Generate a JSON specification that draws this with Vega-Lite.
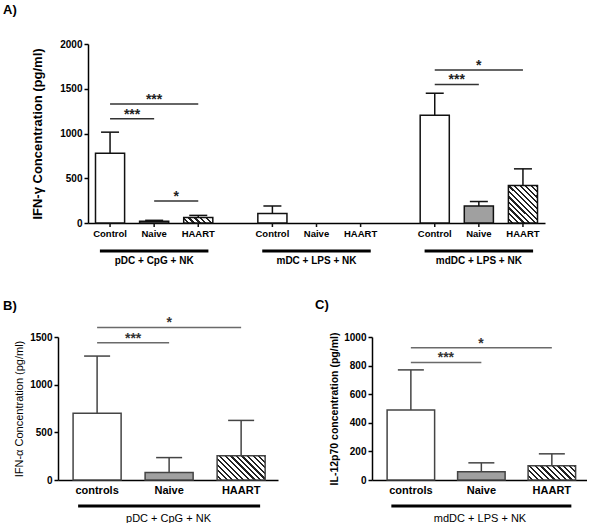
{
  "$schema": "https://vega.github.io/schema/vega-lite/v6.json",
  "padding": {"left": 3, "top": 4, "right": 0, "bottom": 0},
  "background": "white",
  "config": {
    "font": "Liberation Sans",
    "view": {"stroke": null},
    "tick": {"opacity": 1},
    "axis": {"domainColor": "#000", "domainWidth": 1.5, "tickColor": "#000", "tickWidth": 1.5, "tickSize": 4, "labelColor": "#000", "titleColor": "#000", "labelFontWeight": "bold", "grid": false},
    "title": {"color": "#000"}
  },
  "datasets": {
    "bars": [
      {"panel": "A", "group": "pDC + CpG + NK", "cond": "Control", "mean": 780, "upper": 1015},
      {"panel": "A", "group": "pDC + CpG + NK", "cond": "Naive", "mean": 20, "upper": 30},
      {"panel": "A", "group": "pDC + CpG + NK", "cond": "HAART", "mean": 62, "upper": 85},
      {"panel": "A", "group": "mDC + LPS + NK", "cond": "Control", "mean": 105, "upper": 190},
      {"panel": "A", "group": "mDC + LPS + NK", "cond": "Naive", "mean": 0, "upper": 0},
      {"panel": "A", "group": "mDC + LPS + NK", "cond": "HAART", "mean": 0, "upper": 0},
      {"panel": "A", "group": "mdDC + LPS + NK", "cond": "Control", "mean": 1205, "upper": 1450},
      {"panel": "A", "group": "mdDC + LPS + NK", "cond": "Naive", "mean": 190, "upper": 240},
      {"panel": "A", "group": "mdDC + LPS + NK", "cond": "HAART", "mean": 420, "upper": 605},
      {"panel": "B", "group": "pDC + CpG + NK", "cond": "controls", "mean": 700, "upper": 1300},
      {"panel": "B", "group": "pDC + CpG + NK", "cond": "Naive", "mean": 78, "upper": 235},
      {"panel": "B", "group": "pDC + CpG + NK", "cond": "HAART", "mean": 255, "upper": 625},
      {"panel": "C", "group": "mdDC + LPS + NK", "cond": "controls", "mean": 490, "upper": 770},
      {"panel": "C", "group": "mdDC + LPS + NK", "cond": "Naive", "mean": 58, "upper": 120},
      {"panel": "C", "group": "mdDC + LPS + NK", "cond": "HAART", "mean": 100, "upper": 183}
    ],
    "sig": [
      {"panel": "A", "group": "pDC + CpG + NK", "from": "Control", "to": "Naive", "y": 1165, "label": "***"},
      {"panel": "A", "group": "pDC + CpG + NK", "from": "Control", "to": "HAART", "y": 1330, "label": "***"},
      {"panel": "A", "group": "pDC + CpG + NK", "from": "Naive", "to": "HAART", "y": 245, "label": "*"},
      {"panel": "A", "group": "mdDC + LPS + NK", "from": "Control", "to": "Naive", "y": 1548, "label": "***"},
      {"panel": "A", "group": "mdDC + LPS + NK", "from": "Control", "to": "HAART", "y": 1710, "label": "*"},
      {"panel": "B", "group": "pDC + CpG + NK", "from": "controls", "to": "Naive", "y": 1440, "label": "***"},
      {"panel": "B", "group": "pDC + CpG + NK", "from": "controls", "to": "HAART", "y": 1600, "label": "*"},
      {"panel": "C", "group": "mdDC + LPS + NK", "from": "controls", "to": "Naive", "y": 822, "label": "***"},
      {"panel": "C", "group": "mdDC + LPS + NK", "from": "controls", "to": "HAART", "y": 925, "label": "*"}
    ]
  },
  "spacing": 34,
  "vconcat": [
    {
      "width": 487,
      "height": 179,
      "title": {"text": "A)", "anchor": "start", "frame": "group", "dx": -55, "offset": 22, "fontSize": 13, "fontWeight": "bold"},
      "layer": [
        {
          "data": {"name": "bars"},
          "transform": [{"filter": "datum.panel === 'A' && datum.cond !== 'HAART' && datum.mean > 0"}],
          "mark": {"type": "bar", "stroke": "#111", "strokeWidth": 1.5},
          "encoding": {
            "x": {"field": "group", "type": "nominal", "scale": {"domain": ["pDC + CpG + NK", "mDC + LPS + NK", "mdDC + LPS + NK"], "range": [30, 487], "paddingInner": 0.185, "paddingOuter": 0}, "axis": {"title": null, "ticks": false, "labelPadding": 32, "labelFontSize": 10, "labelAngle": 0}},
            "xOffset": {"field": "cond", "type": "nominal", "scale": {"domain": ["Control", "Naive", "HAART"], "paddingInner": 0.34, "paddingOuter": 0.17}},
            "y": {"field": "mean", "type": "quantitative", "scale": {"domain": [0, 2000], "nice": false}, "axis": {"values": [0, 500, 1000, 1500, 2000], "tickCount": 5, "format": "d", "labelOverlap": false, "offset": -30, "title": "IFN-γ Concentration (pg/ml)", "titleFontSize": 13, "titleFontWeight": "bold", "titlePadding": 15, "labelFontSize": 10, "labelPadding": 2}},
            "fill": {"field": "cond", "type": "nominal", "scale": {"domain": ["Control", "Naive"], "range": ["#ffffff", "#a0a0a0"]}, "legend": null}
          }
        },
        {
          "data": {"name": "bars"},
          "transform": [{"filter": "datum.panel === 'A' && datum.cond === 'HAART' && datum.group === 'pDC + CpG + NK'"}],
          "mark": {"type": "bar", "stroke": "#111", "strokeWidth": 1.5, "fill": {"gradient": "linear", "x1": 0, "y1": 1, "x2": 1.1485, "y2": 0.7818, "stops": [
            {"offset": 0, "color": "#fff"}, {"offset": 0.1, "color": "#fff"}, {"offset": 0.1, "color": "#222"}, {"offset": 0.16667, "color": "#222"},
            {"offset": 0.16667, "color": "#fff"}, {"offset": 0.26667, "color": "#fff"}, {"offset": 0.26667, "color": "#222"}, {"offset": 0.33333, "color": "#222"},
            {"offset": 0.33333, "color": "#fff"}, {"offset": 0.43333, "color": "#fff"}, {"offset": 0.43333, "color": "#222"}, {"offset": 0.5, "color": "#222"},
            {"offset": 0.5, "color": "#fff"}, {"offset": 0.6, "color": "#fff"}, {"offset": 0.6, "color": "#222"}, {"offset": 0.66667, "color": "#222"},
            {"offset": 0.66667, "color": "#fff"}, {"offset": 0.76667, "color": "#fff"}, {"offset": 0.76667, "color": "#222"}, {"offset": 0.83333, "color": "#222"},
            {"offset": 0.83333, "color": "#fff"}, {"offset": 0.93333, "color": "#fff"}, {"offset": 0.93333, "color": "#222"}, {"offset": 1, "color": "#222"}
          ]}},
          "encoding": {
            "x": {"field": "group", "type": "nominal"},
            "xOffset": {"field": "cond", "type": "nominal"},
            "y": {"field": "mean", "type": "quantitative"}
          }
        },
        {
          "data": {"name": "bars"},
          "transform": [{"filter": "datum.panel === 'A' && datum.cond === 'HAART' && datum.group === 'mdDC + LPS + NK'"}],
          "mark": {"type": "bar", "stroke": "#111", "strokeWidth": 1.5, "fill": {"gradient": "linear", "x1": 0, "y1": 1, "x2": 0.855, "y2": -0.1115, "stops": [
            {"offset": 0, "color": "#fff"}, {"offset": 0.05, "color": "#fff"}, {"offset": 0.05, "color": "#222"}, {"offset": 0.08333, "color": "#222"},
            {"offset": 0.08333, "color": "#fff"}, {"offset": 0.13333, "color": "#fff"}, {"offset": 0.13333, "color": "#222"}, {"offset": 0.16667, "color": "#222"},
            {"offset": 0.16667, "color": "#fff"}, {"offset": 0.21667, "color": "#fff"}, {"offset": 0.21667, "color": "#222"}, {"offset": 0.25, "color": "#222"},
            {"offset": 0.25, "color": "#fff"}, {"offset": 0.3, "color": "#fff"}, {"offset": 0.3, "color": "#222"}, {"offset": 0.33333, "color": "#222"},
            {"offset": 0.33333, "color": "#fff"}, {"offset": 0.38333, "color": "#fff"}, {"offset": 0.38333, "color": "#222"}, {"offset": 0.41667, "color": "#222"},
            {"offset": 0.41667, "color": "#fff"}, {"offset": 0.46667, "color": "#fff"}, {"offset": 0.46667, "color": "#222"}, {"offset": 0.5, "color": "#222"},
            {"offset": 0.5, "color": "#fff"}, {"offset": 0.55, "color": "#fff"}, {"offset": 0.55, "color": "#222"}, {"offset": 0.58333, "color": "#222"},
            {"offset": 0.58333, "color": "#fff"}, {"offset": 0.63333, "color": "#fff"}, {"offset": 0.63333, "color": "#222"}, {"offset": 0.66667, "color": "#222"},
            {"offset": 0.66667, "color": "#fff"}, {"offset": 0.71667, "color": "#fff"}, {"offset": 0.71667, "color": "#222"}, {"offset": 0.75, "color": "#222"},
            {"offset": 0.75, "color": "#fff"}, {"offset": 0.8, "color": "#fff"}, {"offset": 0.8, "color": "#222"}, {"offset": 0.83333, "color": "#222"},
            {"offset": 0.83333, "color": "#fff"}, {"offset": 0.88333, "color": "#fff"}, {"offset": 0.88333, "color": "#222"}, {"offset": 0.91667, "color": "#222"},
            {"offset": 0.91667, "color": "#fff"}, {"offset": 0.96667, "color": "#fff"}, {"offset": 0.96667, "color": "#222"}, {"offset": 1, "color": "#222"}
          ]}},
          "encoding": {
            "x": {"field": "group", "type": "nominal"},
            "xOffset": {"field": "cond", "type": "nominal"},
            "y": {"field": "mean", "type": "quantitative"}
          }
        },
        {
          "data": {"name": "bars"},
          "transform": [{"filter": "datum.panel === 'A' && datum.mean > 0"}],
          "mark": {"type": "rule", "color": "#111", "strokeWidth": 1.5},
          "encoding": {
            "x": {"field": "group", "type": "nominal"},
            "xOffset": {"field": "cond", "type": "nominal"},
            "y": {"field": "mean", "type": "quantitative"},
            "y2": {"field": "upper"}
          }
        },
        {
          "data": {"name": "bars"},
          "transform": [{"filter": "datum.panel === 'A' && datum.mean > 0"}],
          "mark": {"type": "tick", "color": "#111", "opacity": 1, "thickness": 1.5, "size": 18, "orient": "horizontal"},
          "encoding": {
            "x": {"field": "group", "type": "nominal"},
            "xOffset": {"field": "cond", "type": "nominal"},
            "y": {"field": "upper", "type": "quantitative"}
          }
        },
        {
          "data": {"name": "bars"},
          "transform": [{"filter": "datum.panel === 'A'"}],
          "mark": {"type": "rule", "color": "#111", "strokeWidth": 1.5},
          "encoding": {
            "x": {"field": "group", "type": "nominal"},
            "xOffset": {"field": "cond", "type": "nominal"},
            "y": {"datum": 0},
            "y2": {"datum": -45}
          }
        },
        {
          "data": {"name": "bars"},
          "transform": [{"filter": "datum.panel === 'A'"}],
          "mark": {"type": "text", "baseline": "top", "fontSize": 9.5, "fontWeight": "bold", "color": "#000"},
          "encoding": {
            "x": {"field": "group", "type": "nominal"},
            "xOffset": {"field": "cond", "type": "nominal"},
            "y": {"datum": -65},
            "text": {"field": "cond"}
          }
        },
        {
          "data": {"name": "bars"},
          "transform": [{"filter": "datum.panel === 'A' && datum.cond === 'Control'"}],
          "mark": {"type": "bar", "color": "#000", "width": {"band": 0.82}},
          "encoding": {
            "x": {"field": "group", "type": "nominal"},
            "y": {"datum": -296},
            "y2": {"datum": -330}
          }
        },
        {
          "data": {"name": "sig"},
          "transform": [{"filter": "datum.panel === 'A'"}, {"fold": ["from", "to"], "as": ["end", "cond"]}],
          "mark": {"type": "line", "color": "#333", "strokeWidth": 1.5},
          "encoding": {
            "x": {"field": "group", "type": "nominal"},
            "xOffset": {"field": "cond", "type": "nominal"},
            "y": {"field": "y", "type": "quantitative"},
            "detail": [{"field": "group"}, {"field": "from"}, {"field": "to"}]
          }
        },
        {
          "data": {"name": "sig"},
          "transform": [{"filter": "datum.panel === 'A' && !(datum.from === 'Control' && datum.to === 'HAART')"}],
          "mark": {"type": "text", "fontSize": 14, "fontWeight": "bold", "color": "#222", "dx": 22, "dy": 0, "baseline": "alphabetic"},
          "encoding": {
            "x": {"field": "group", "type": "nominal"},
            "xOffset": {"field": "from", "type": "nominal"},
            "y": {"field": "y", "type": "quantitative"},
            "text": {"field": "label"}
          }
        },
        {
          "data": {"name": "sig"},
          "transform": [{"filter": "datum.panel === 'A' && datum.from === 'Control' && datum.to === 'HAART'"}],
          "mark": {"type": "text", "fontSize": 14, "fontWeight": "bold", "color": "#222", "dx": 44, "dy": 0, "baseline": "alphabetic"},
          "encoding": {
            "x": {"field": "group", "type": "nominal"},
            "xOffset": {"field": "from", "type": "nominal"},
            "y": {"field": "y", "type": "quantitative"},
            "text": {"field": "label"}
          }
        }
      ]
    },
    {
      "spacing": 37,
      "hconcat": [
        {
          "width": 220,
          "height": 143,
          "title": {"text": "B)", "anchor": "start", "frame": "group", "dx": -55, "offset": 3, "fontSize": 13, "fontWeight": "bold"},
          "layer": [
            {
              "data": {"name": "bars"},
              "transform": [{"filter": "datum.panel === 'B' && datum.cond !== 'HAART'"}],
              "mark": {"type": "bar", "stroke": "#444", "strokeWidth": 1.5},
              "encoding": {
                "x": {"field": "cond", "type": "nominal", "scale": {"domain": ["controls", "Naive", "HAART"], "paddingInner": 0.333, "paddingOuter": 0.194, "align": 0.54}, "axis": {"ticks": false, "labelPadding": 4, "labelFontSize": 11, "labelAngle": 0, "title": "pDC + CpG + NK", "titleFontSize": 11, "titleFontWeight": "normal", "titlePadding": 17}},
                "y": {"field": "mean", "type": "quantitative", "scale": {"domain": [0, 1500], "nice": false}, "axis": {"values": [0, 500, 1000, 1500], "tickCount": 4, "format": "d", "labelOverlap": false, "title": "IFN-α Concentration (pg/ml)", "titleFontSize": 11, "titleFontWeight": "normal", "titlePadding": 5, "labelFontSize": 10, "labelPadding": 2}},
                "fill": {"field": "cond", "type": "nominal", "scale": {"domain": ["controls", "Naive"], "range": ["#ffffff", "#888888"]}, "legend": null}
              }
            },
            {
              "data": {"name": "bars"},
              "transform": [{"filter": "datum.panel === 'B' && datum.cond === 'HAART'"}],
              "mark": {"type": "bar", "stroke": "#444", "strokeWidth": 1.5, "fill": {"gradient": "linear", "x1": 0, "y1": 1, "x2": 1.199, "y2": 0.393, "stops": [
                {"offset": 0, "color": "#fff"}, {"offset": 0.04615, "color": "#fff"}, {"offset": 0.04615, "color": "#222"}, {"offset": 0.07692, "color": "#222"},
                {"offset": 0.07692, "color": "#fff"}, {"offset": 0.12308, "color": "#fff"}, {"offset": 0.12308, "color": "#222"}, {"offset": 0.15385, "color": "#222"},
                {"offset": 0.15385, "color": "#fff"}, {"offset": 0.2, "color": "#fff"}, {"offset": 0.2, "color": "#222"}, {"offset": 0.23077, "color": "#222"},
                {"offset": 0.23077, "color": "#fff"}, {"offset": 0.27692, "color": "#fff"}, {"offset": 0.27692, "color": "#222"}, {"offset": 0.30769, "color": "#222"},
                {"offset": 0.30769, "color": "#fff"}, {"offset": 0.35385, "color": "#fff"}, {"offset": 0.35385, "color": "#222"}, {"offset": 0.38462, "color": "#222"},
                {"offset": 0.38462, "color": "#fff"}, {"offset": 0.43077, "color": "#fff"}, {"offset": 0.43077, "color": "#222"}, {"offset": 0.46154, "color": "#222"},
                {"offset": 0.46154, "color": "#fff"}, {"offset": 0.50769, "color": "#fff"}, {"offset": 0.50769, "color": "#222"}, {"offset": 0.53846, "color": "#222"},
                {"offset": 0.53846, "color": "#fff"}, {"offset": 0.58462, "color": "#fff"}, {"offset": 0.58462, "color": "#222"}, {"offset": 0.61538, "color": "#222"},
                {"offset": 0.61538, "color": "#fff"}, {"offset": 0.66154, "color": "#fff"}, {"offset": 0.66154, "color": "#222"}, {"offset": 0.69231, "color": "#222"},
                {"offset": 0.69231, "color": "#fff"}, {"offset": 0.73846, "color": "#fff"}, {"offset": 0.73846, "color": "#222"}, {"offset": 0.76923, "color": "#222"},
                {"offset": 0.76923, "color": "#fff"}, {"offset": 0.81538, "color": "#fff"}, {"offset": 0.81538, "color": "#222"}, {"offset": 0.84615, "color": "#222"},
                {"offset": 0.84615, "color": "#fff"}, {"offset": 0.89231, "color": "#fff"}, {"offset": 0.89231, "color": "#222"}, {"offset": 0.92308, "color": "#222"},
                {"offset": 0.92308, "color": "#fff"}, {"offset": 0.96923, "color": "#fff"}, {"offset": 0.96923, "color": "#222"}, {"offset": 1, "color": "#222"}
              ]}},
              "encoding": {
                "x": {"field": "cond", "type": "nominal"},
                "y": {"field": "mean", "type": "quantitative"}
              }
            },
            {
              "data": {"name": "bars"},
              "transform": [{"filter": "datum.panel === 'B'"}],
              "mark": {"type": "rule", "color": "#444", "strokeWidth": 1.5},
              "encoding": {
                "x": {"field": "cond", "type": "nominal"},
                "y": {"field": "mean", "type": "quantitative"},
                "y2": {"field": "upper"}
              }
            },
            {
              "data": {"name": "bars"},
              "transform": [{"filter": "datum.panel === 'B'"}],
              "mark": {"type": "tick", "color": "#444", "opacity": 1, "thickness": 1.5, "size": 26, "orient": "horizontal"},
              "encoding": {
                "x": {"field": "cond", "type": "nominal"},
                "y": {"field": "upper", "type": "quantitative"}
              }
            },
            {
              "data": {"name": "sig"},
              "transform": [{"filter": "datum.panel === 'B'"}],
              "mark": {"type": "rule", "color": "#6a6a6a", "strokeWidth": 1.5},
              "encoding": {
                "x": {"field": "from", "type": "nominal"},
                "x2": {"field": "to"},
                "y": {"field": "y", "type": "quantitative"}
              }
            },
            {
              "data": {"name": "sig"},
              "transform": [{"filter": "datum.panel === 'B' && datum.to === 'Naive'"}],
              "mark": {"type": "text", "fontSize": 14, "fontWeight": "bold", "color": "#333", "dx": 36, "dy": 0, "baseline": "alphabetic"},
              "encoding": {
                "x": {"field": "from", "type": "nominal"},
                "y": {"field": "y", "type": "quantitative"},
                "text": {"field": "label"}
              }
            },
            {
              "data": {"name": "sig"},
              "transform": [{"filter": "datum.panel === 'B' && datum.to === 'HAART'"}],
              "mark": {"type": "text", "fontSize": 14, "fontWeight": "bold", "color": "#333", "dx": 72, "dy": 0, "baseline": "alphabetic"},
              "encoding": {
                "x": {"field": "from", "type": "nominal"},
                "y": {"field": "y", "type": "quantitative"},
                "text": {"field": "label"}
              }
            },
            {
              "data": {"name": "bars"},
              "transform": [{"filter": "datum.panel === 'B' && datum.cond === 'Naive'"}],
              "mark": {"type": "tick", "color": "#000", "opacity": 1, "thickness": 3, "size": 182, "orient": "horizontal"},
              "encoding": {
                "x": {"field": "cond", "type": "nominal"},
                "y": {"datum": -273}
              }
            }
          ]
        },
        {
          "width": 215,
          "height": 143,
          "title": {"text": "C)", "anchor": "start", "frame": "group", "dx": -57, "offset": 20, "fontSize": 13, "fontWeight": "bold"},
          "layer": [
            {
              "data": {"name": "bars"},
              "transform": [{"filter": "datum.panel === 'C' && datum.cond !== 'HAART'"}],
              "mark": {"type": "bar", "stroke": "#444", "strokeWidth": 1.5},
              "encoding": {
                "x": {"field": "cond", "type": "nominal", "scale": {"domain": ["controls", "Naive", "HAART"], "paddingInner": 0.326, "paddingOuter": 0.188, "align": 0.57}, "axis": {"ticks": false, "labelPadding": 4, "labelFontSize": 11, "labelAngle": 0, "title": "mdDC + LPS + NK", "titleFontSize": 11, "titleFontWeight": "normal", "titlePadding": 17}},
                "y": {"field": "mean", "type": "quantitative", "scale": {"domain": [0, 1000], "nice": false}, "axis": {"values": [0, 200, 400, 600, 800, 1000], "tickCount": 6, "format": "d", "labelOverlap": false, "title": "IL-12p70 concentration (pg/ml)", "titleFontSize": 10.5, "titleFontWeight": "bold", "titlePadding": 4, "labelFontSize": 10, "labelPadding": 2}},
                "fill": {"field": "cond", "type": "nominal", "scale": {"domain": ["controls", "Naive"], "range": ["#ffffff", "#888888"]}, "legend": null}
              }
            },
            {
              "data": {"name": "bars"},
              "transform": [{"filter": "datum.panel === 'C' && datum.cond === 'HAART'"}],
              "mark": {"type": "bar", "stroke": "#444", "strokeWidth": 1.5, "fill": {"gradient": "linear", "x1": 0, "y1": 1, "x2": 1.1927, "y2": 0.6422, "stops": [
                {"offset": 0, "color": "#fff"}, {"offset": 0.05455, "color": "#fff"}, {"offset": 0.05455, "color": "#222"}, {"offset": 0.09091, "color": "#222"},
                {"offset": 0.09091, "color": "#fff"}, {"offset": 0.14545, "color": "#fff"}, {"offset": 0.14545, "color": "#222"}, {"offset": 0.18182, "color": "#222"},
                {"offset": 0.18182, "color": "#fff"}, {"offset": 0.23636, "color": "#fff"}, {"offset": 0.23636, "color": "#222"}, {"offset": 0.27273, "color": "#222"},
                {"offset": 0.27273, "color": "#fff"}, {"offset": 0.32727, "color": "#fff"}, {"offset": 0.32727, "color": "#222"}, {"offset": 0.36364, "color": "#222"},
                {"offset": 0.36364, "color": "#fff"}, {"offset": 0.41818, "color": "#fff"}, {"offset": 0.41818, "color": "#222"}, {"offset": 0.45455, "color": "#222"},
                {"offset": 0.45455, "color": "#fff"}, {"offset": 0.50909, "color": "#fff"}, {"offset": 0.50909, "color": "#222"}, {"offset": 0.54545, "color": "#222"},
                {"offset": 0.54545, "color": "#fff"}, {"offset": 0.6, "color": "#fff"}, {"offset": 0.6, "color": "#222"}, {"offset": 0.63636, "color": "#222"},
                {"offset": 0.63636, "color": "#fff"}, {"offset": 0.69091, "color": "#fff"}, {"offset": 0.69091, "color": "#222"}, {"offset": 0.72727, "color": "#222"},
                {"offset": 0.72727, "color": "#fff"}, {"offset": 0.78182, "color": "#fff"}, {"offset": 0.78182, "color": "#222"}, {"offset": 0.81818, "color": "#222"},
                {"offset": 0.81818, "color": "#fff"}, {"offset": 0.87273, "color": "#fff"}, {"offset": 0.87273, "color": "#222"}, {"offset": 0.90909, "color": "#222"},
                {"offset": 0.90909, "color": "#fff"}, {"offset": 0.96364, "color": "#fff"}, {"offset": 0.96364, "color": "#222"}, {"offset": 1, "color": "#222"}
              ]}},
              "encoding": {
                "x": {"field": "cond", "type": "nominal"},
                "y": {"field": "mean", "type": "quantitative"}
              }
            },
            {
              "data": {"name": "bars"},
              "transform": [{"filter": "datum.panel === 'C'"}],
              "mark": {"type": "rule", "color": "#444", "strokeWidth": 1.5},
              "encoding": {
                "x": {"field": "cond", "type": "nominal"},
                "y": {"field": "mean", "type": "quantitative"},
                "y2": {"field": "upper"}
              }
            },
            {
              "data": {"name": "bars"},
              "transform": [{"filter": "datum.panel === 'C'"}],
              "mark": {"type": "tick", "color": "#444", "opacity": 1, "thickness": 1.5, "size": 26, "orient": "horizontal"},
              "encoding": {
                "x": {"field": "cond", "type": "nominal"},
                "y": {"field": "upper", "type": "quantitative"}
              }
            },
            {
              "data": {"name": "sig"},
              "transform": [{"filter": "datum.panel === 'C'"}],
              "mark": {"type": "rule", "color": "#6a6a6a", "strokeWidth": 1.5},
              "encoding": {
                "x": {"field": "from", "type": "nominal"},
                "x2": {"field": "to"},
                "y": {"field": "y", "type": "quantitative"}
              }
            },
            {
              "data": {"name": "sig"},
              "transform": [{"filter": "datum.panel === 'C' && datum.to === 'Naive'"}],
              "mark": {"type": "text", "fontSize": 14, "fontWeight": "bold", "color": "#333", "dx": 35, "dy": 0, "baseline": "alphabetic"},
              "encoding": {
                "x": {"field": "from", "type": "nominal"},
                "y": {"field": "y", "type": "quantitative"},
                "text": {"field": "label"}
              }
            },
            {
              "data": {"name": "sig"},
              "transform": [{"filter": "datum.panel === 'C' && datum.to === 'HAART'"}],
              "mark": {"type": "text", "fontSize": 14, "fontWeight": "bold", "color": "#333", "dx": 70, "dy": 0, "baseline": "alphabetic"},
              "encoding": {
                "x": {"field": "from", "type": "nominal"},
                "y": {"field": "y", "type": "quantitative"},
                "text": {"field": "label"}
              }
            },
            {
              "data": {"name": "bars"},
              "transform": [{"filter": "datum.panel === 'C' && datum.cond === 'Naive'"}],
              "mark": {"type": "tick", "color": "#000", "opacity": 1, "thickness": 3, "size": 180, "orient": "horizontal"},
              "encoding": {
                "x": {"field": "cond", "type": "nominal"},
                "y": {"datum": -182}
              }
            }
          ]
        }
      ]
    }
  ]
}
